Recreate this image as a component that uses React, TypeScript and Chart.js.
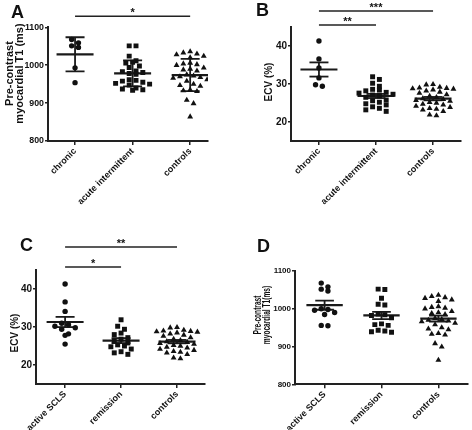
import React, { useEffect, useRef } from "react";
import { Chart, registerables } from "chart.js";
Chart.register(...registerables);

// ---------------- data ----------------
const catsAB = ["chronic", "acute intermittent", "controls"];
const catsCD = ["active SCLS", "remission", "controls"];

const t1Chronic = [1068, 1059, 1051, 1047, 993, 954];
const t1Acute = [1051, 1051, 1024, 1012, 1008, 1006, 998, 994, 985, 983, 981, 978, 976, 962, 960, 958, 955, 952, 950, 948, 940, 937, 935, 934];
const t1Controls = [1036, 1033, 1030, 1028, 1024, 1020, 1006, 1004, 1002, 1000, 993, 990, 988, 985, 975, 970, 972, 968, 966, 962, 958, 950, 947, 945, 935, 933, 931, 908, 899, 864];
const t1Active = [1068, 1058, 1052, 1047, 1000, 998, 996, 990, 985, 956, 955];
const t1Remission = [1052, 1051, 1028, 1012, 1010, 986, 984, 982, 976, 960, 958, 956, 943, 941, 939, 938];

const ecvChronic = [41.3, 36.6, 34.2, 31.6, 29.8, 29.4];
const ecvAcute = [31.9, 31.2, 30.2, 29.4, 28.6, 28.4, 28.2, 27.8, 27.6, 27.3, 27.1, 26.9, 26.5, 25.8, 25.6, 25.2, 24.8, 24.5, 24.0, 23.6, 23.2, 22.8];
const ecvControls = [29.9, 29.8, 29.2, 29.0, 28.9, 28.8, 28.7, 28.5, 28.2, 27.9, 27.6, 27.2, 26.8, 26.5, 26.2, 26.0, 25.7, 25.5, 25.2, 25.0, 24.7, 24.5, 24.2, 23.9, 23.6, 23.4, 23.2, 22.8, 21.9, 21.7];
const ecvActive = [41.3, 36.6, 34.1, 31.0, 30.6, 30.2, 29.8, 29.4, 28.2, 27.8, 25.5];
const ecvRemission = [31.9, 30.2, 29.4, 28.4, 28.0, 27.2, 26.8, 26.3, 25.8, 25.3, 25.0, 24.8, 24.2, 23.5, 23.2, 22.8];

const t1Ticks = [800, 900, 1000, 1100];
const ecvTicks = [20, 30, 40];
const t1Range = [800, 1100];
const ecvRange = [15, 45];

const sigA = [{ from: 0, to: 2, label: "*" }];
const sigB = [{ from: 0, to: 1, label: "**" }, { from: 0, to: 2, label: "***" }];
const sigC = [{ from: 0, to: 1, label: "*" }, { from: 0, to: 2, label: "**" }];
const sigD: { from: number; to: number; label: string }[] = [];

// ---------------- layout / style ----------------
const FONT = '"Liberation Sans", Arial, Helvetica, sans-serif';
const INK = "#111";
const W = 236;
const H = 215;
const markers = ["circle", "rect", "triangle"];
const markerRadius = [2.7, 3.5, 3.4];

const panels = [
  {
    letter: "A", pos: [0, 0], cats: catsAB, groups: [t1Chronic, t1Acute, t1Controls],
    ticks: t1Ticks, range: t1Range, err: "sd", title: ["Pre-contrast", "myocardial T1 (ms)"], sig: sigA,
    area: { l: 48, r: 208, t: 27.3, b: 141 }, xr: [-0.47, 2.31],
    letterXY: [11, 18], titleX: [13, 22.5], titleY: 73.5, titleSize: 11, titleScale: 1, tickSize: 8.8, sigOff: [11],
  },
  {
    letter: "B", pos: [236, 0], cats: catsAB, groups: [ecvChronic, ecvAcute, ecvControls],
    ticks: ecvTicks, range: ecvRange, err: "sem", title: ["ECV (%)"], sig: sigB,
    area: { l: 55, r: 225, t: 27, b: 141 }, xr: [-0.49, 2.49],
    letterXY: [20, 16], titleX: [36], titleY: 82, titleSize: 10, titleScale: 1, tickSize: 10, sigOff: [2, 16],
  },
  {
    letter: "C", pos: [0, 215], cats: catsCD, groups: [ecvActive, ecvRemission, ecvControls],
    ticks: ecvTicks, range: ecvRange, err: "sem", title: ["ECV (%)"], sig: sigC,
    area: { l: 36, r: 205, t: 55, b: 169 }, xr: [-0.52, 2.5],
    letterXY: [20, 36], titleX: [17.5], titleY: 118, titleSize: 10, titleScale: 1, tickSize: 10, sigOff: [3, 23],
  },
  {
    letter: "D", pos: [236, 215], cats: catsCD, groups: [t1Active, t1Remission, t1Controls],
    ticks: t1Ticks, range: t1Range, err: "sem", title: ["Pre-contrast", "myocardial T1(ms)"], sig: sigD,
    area: { l: 59, r: 235, t: 56, b: 169.3 }, xr: [-0.52, 2.52],
    letterXY: [21, 37], titleX: [25, 34], titleY: 100, titleSize: 10, titleScale: 0.66, tickSize: 8, sigOff: [],
  },
];

// ---------------- helpers ----------------
function mean(a: number[]) {
  return a.reduce((s, v) => s + v, 0) / a.length;
}
function sd(a: number[]) {
  const m = mean(a);
  return Math.sqrt(a.reduce((s, v) => s + (v - m) ** 2, 0) / (a.length - 1));
}

function swarm(values: number[], center: number, bin: number, dx: number) {
  const sorted = [...values].sort((a, b) => b - a);
  const rows: number[][] = [];
  let cur: number[] = [];
  let start = Infinity;
  for (const v of sorted) {
    if (cur.length && start - v > bin) {
      rows.push(cur);
      cur = [];
    }
    if (!cur.length) start = v;
    cur.push(v);
  }
  if (cur.length) rows.push(cur);
  const pts: { x: number; y: number }[] = [];
  for (const row of rows) {
    const n = row.length;
    const slots = Array.from({ length: n }, (_, i) => i - (n - 1) / 2).sort(
      (a, b) => Math.abs(a) - Math.abs(b) || a - b
    );
    row.forEach((v, i) => pts.push({ x: center + slots[i] * dx, y: v }));
  }
  return pts;
}

const annotPlugin = {
  id: "annot",
  afterDraw(chart: any, _args: any, opts: any) {
    const { ctx, chartArea, scales } = chart;
    ctx.save();
    ctx.fillStyle = INK;
    // panel letter
    ctx.font = `bold 18px ${FONT}`;
    ctx.textAlign = "left";
    ctx.textBaseline = "alphabetic";
    ctx.fillText(opts.letter, opts.letterXY[0], opts.letterXY[1]);
    // y title
    ctx.font = `bold ${opts.titleSize}px ${FONT}`;
    ctx.textAlign = "center";
    opts.title.forEach((line: string, i: number) => {
      ctx.save();
      ctx.translate(opts.titleX[i], opts.titleY);
      ctx.rotate(-Math.PI / 2);
      ctx.scale(opts.titleScale, 1);
      ctx.fillText(line, 0, 0);
      ctx.restore();
    });
    // significance brackets
    ctx.strokeStyle = "#222";
    ctx.lineWidth = 1.5;
    ctx.font = `bold 11px ${FONT}`;
    opts.sig.forEach((s: any, i: number) => {
      const y = chartArea.top - opts.sigOff[i];
      const x1 = scales.x.getPixelForValue(s.from);
      const x2 = scales.x.getPixelForValue(s.to);
      ctx.beginPath();
      ctx.moveTo(x1, y);
      ctx.lineTo(x2, y);
      ctx.stroke();
      ctx.fillText(s.label, (x1 + x2) / 2, y - 0.5);
    });
    ctx.restore();
  },
};

function buildConfig(p: any) {
  const pxPerUnit = (p.area.r - p.area.l) / (p.xr[1] - p.xr[0]);
  const bin = ((p.range[1] - p.range[0]) / (p.area.b - p.area.t)) * 5;
  const dx = 6.8 / pxPerUnit;
  const meanHalf = 18.5 / pxPerUnit;
  const capHalf = 9.5 / pxPerUnit;
  const datasets: any[] = [];
  p.groups.forEach((g: number[], i: number) => {
    datasets.push({
      data: swarm(g, i, bin, dx),
      pointStyle: markers[i],
      pointRadius: markerRadius[i],
      pointBackgroundColor: INK,
      pointBorderColor: INK,
      pointBorderWidth: 0,
      showLine: false,
    });
  });
  p.groups.forEach((g: number[], i: number) => {
    const m = mean(g);
    const e = p.err === "sd" ? sd(g) : sd(g) / Math.sqrt(g.length);
    const segs = [
      { pts: [{ x: i - meanHalf, y: m }, { x: i + meanHalf, y: m }], w: 2.2 },
      { pts: [{ x: i, y: m - e }, { x: i, y: m + e }], w: 1.8 },
      { pts: [{ x: i - capHalf, y: m + e }, { x: i + capHalf, y: m + e }], w: 1.8 },
      { pts: [{ x: i - capHalf, y: m - e }, { x: i + capHalf, y: m - e }], w: 1.8 },
    ];
    segs.forEach((s) =>
      datasets.push({
        data: s.pts,
        showLine: true,
        borderColor: "#1a1a1a",
        borderWidth: s.w,
        pointRadius: 0,
        borderCapStyle: "butt",
      })
    );
  });

  return {
    type: "scatter",
    data: { datasets },
    plugins: [annotPlugin],
    options: {
      animation: false,
      responsive: false,
      maintainAspectRatio: false,
      devicePixelRatio: 1,
      events: [],
      layout: { padding: { top: p.area.t, right: W - p.area.r, left: 0, bottom: 0 } },
      plugins: {
        legend: { display: false },
        tooltip: { enabled: false },
        annot: {
          letter: p.letter, letterXY: p.letterXY, title: p.title, titleX: p.titleX, titleY: p.titleY,
          titleSize: p.titleSize, titleScale: p.titleScale, sig: p.sig, sigOff: p.sigOff,
        },
      },
      scales: {
        x: {
          type: "linear",
          min: p.xr[0],
          max: p.xr[1],
          afterBuildTicks: (s: any) => {
            s.ticks = p.cats.map((_: string, i: number) => ({ value: i }));
          },
          afterFit: (s: any) => {
            s.height = H - p.area.b;
          },
          ticks: {
            autoSkip: false,
            minRotation: 45,
            maxRotation: 45,
            padding: 1,
            color: INK,
            font: { family: FONT, size: 9, weight: "bold" },
            callback: (v: number) => p.cats[Math.round(v)],
          },
          grid: { display: true, drawOnChartArea: false, drawTicks: true, tickLength: 4, color: "#222", lineWidth: 1.5 },
          border: { display: true, color: "#222", width: 2 },
        },
        y: {
          type: "linear",
          min: p.range[0],
          max: p.range[1],
          afterBuildTicks: (s: any) => {
            s.ticks = p.ticks.map((v: number) => ({ value: v }));
          },
          afterFit: (s: any) => {
            s.width = p.area.l;
          },
          ticks: {
            padding: 1,
            color: INK,
            font: { family: FONT, size: p.tickSize, weight: "bold" },
            callback: (v: number) => String(v),
          },
          grid: { display: true, drawOnChartArea: false, drawTicks: true, tickLength: 3, color: "#222", lineWidth: 1.5 },
          border: { display: true, color: "#222", width: 2 },
        },
      },
    },
  };
}

function Panel({ p }: { p: any }) {
  const ref = useRef<HTMLCanvasElement>(null);
  useEffect(() => {
    if (!ref.current) return;
    const chart = new Chart(ref.current, buildConfig(p) as any);
    return () => chart.destroy();
  }, [p]);
  return (
    <canvas
      ref={ref}
      width={W}
      height={H}
      style={{ position: "absolute", left: p.pos[0], top: p.pos[1], width: W, height: H }}
    />
  );
}

export default function App() {
  return (
    <div style={{ position: "absolute", left: 0, top: 0, width: 472, height: 430, background: "#fff" }}>
      {panels.map((p) => (
        <Panel key={p.letter} p={p} />
      ))}
    </div>
  );
}
